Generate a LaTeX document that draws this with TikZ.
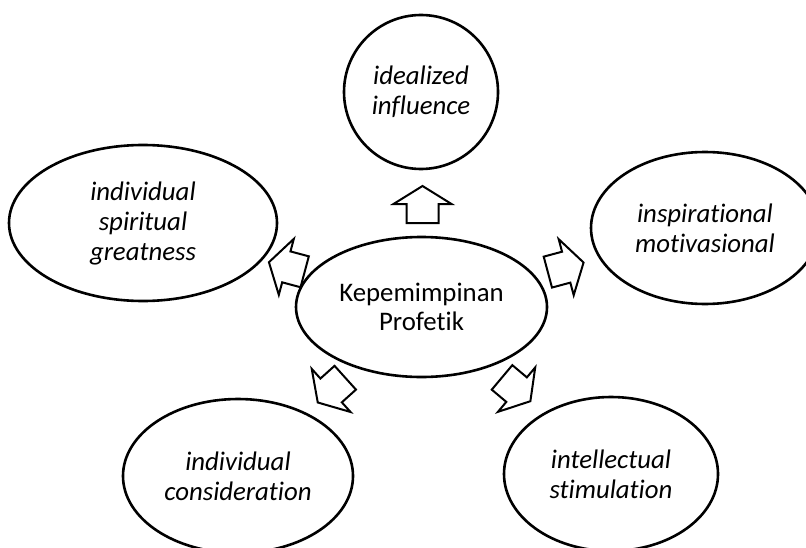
\documentclass[tikz,border=0pt]{standalone}
\usepackage{fontspec}
\setmainfont[Ligatures=NoCommon]{Carlito}
\usepackage{tikz}
\usetikzlibrary{shapes.geometric}

\tikzset{
	aspect/.style = {draw, ellipse, line width=1.3pt, inner sep=0pt, align=center,
		font=\fontsize{13.4}{15}\selectfont\itshape},
	core/.style = {aspect, font=\fontsize{13.4}{14.5}\selectfont},
	pics/blockarrow/.style = {code={
		\draw[line width=1pt, line join=miter] (-18.5,-16) -- (0.5,-16) -- (0.5,-29) -- (18.5,0)
			-- (0.5,29) -- (0.5,16) -- (-18.5,16) -- cycle;}}
}

\begin{document}
\begin{tikzpicture}[x=.5pt, y=.5pt]
	\clip (0,0) rectangle (806,547);
	\node[core, minimum width=125.5pt, minimum height=70pt] (profetik) at (421.5,240) {Kepemimpinan\\Profetik};
	\node[aspect, minimum width=77pt, minimum height=77pt] (idealized) at (421,455) {idealized\\influence};
	\node[aspect, minimum width=134pt, minimum height=78pt] (spiritual) at (143,324) {individual\\spiritual\\greatness};
	\node[aspect, minimum width=114pt, minimum height=76pt] (inspirational) at (705,319) {inspirational\\motivasional};
	\node[aspect, minimum width=115pt, minimum height=77pt] (consideration) at (238,71) {individual\\consideration};
	\node[aspect, minimum width=107pt, minimum height=77pt] (stimulation) at (611,73) {intellectual\\stimulation};
%	block arrows out of the centre
	\pic[rotate=90] at (422.5,342.5) {blockarrow};
	\pic[rotate=165] at (286.8,280) {blockarrow};
	\pic[rotate=15] at (565.7,279.7) {blockarrow};
	\pic[rotate=222] at (331.5,156.9) {blockarrow};
	\pic[rotate=320] at (516.2,157.7) {blockarrow};
\end{tikzpicture}
\end{document}
